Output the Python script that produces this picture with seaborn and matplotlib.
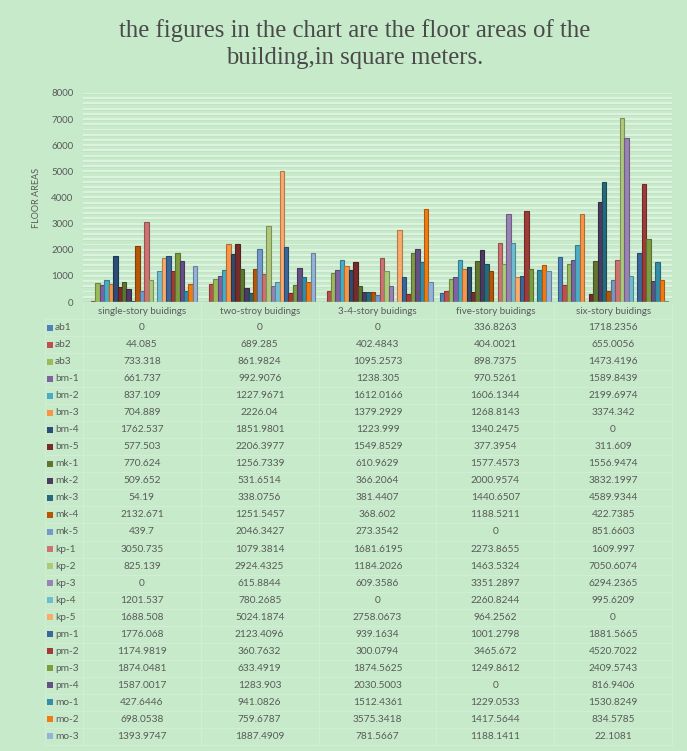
import matplotlib
matplotlib.use("Agg")
import matplotlib.pyplot as plt
import matplotlib.colors as mcolors
import seaborn as sns
import pandas as pd
import numpy as np

categories = ["single-story buidings", "two-stroy buidings", "3-4-story buidings",
              "five-story buidings", "six-story buidings"]

series = ["ab1", "ab2", "ab3", "bm-1", "bm-2", "bm-3", "bm-4", "bm-5",
          "mk-1", "mk-2", "mk-3", "mk-4", "mk-5",
          "kp-1", "kp-2", "kp-3", "kp-4", "kp-5",
          "pm-1", "pm-2", "pm-3", "pm-4", "mo-1", "mo-2", "mo-3"]

# one list per series, values in category order (text kept as shown in the table)
ab1 = ["0", "0", "0", "336.8263", "1718.2356"]
ab2 = ["44.085", "689.285", "402.4843", "404.0021", "655.0056"]
ab3 = ["733.318", "861.9824", "1095.2573", "898.7375", "1473.4196"]
bm_1 = ["661.737", "992.9076", "1238.305", "970.5261", "1589.8439"]
bm_2 = ["837.109", "1227.9671", "1612.0166", "1606.1344", "2199.6974"]
bm_3 = ["704.889", "2226.04", "1379.2929", "1268.8143", "3374.342"]
bm_4 = ["1762.537", "1851.9801", "1223.999", "1340.2475", "0"]
bm_5 = ["577.503", "2206.3977", "1549.8529", "377.3954", "311.609"]
mk_1 = ["770.624", "1256.7339", "610.9629", "1577.4573", "1556.9474"]
mk_2 = ["509.652", "531.6514", "366.2064", "2000.9574", "3832.1997"]
mk_3 = ["54.19", "338.0756", "381.4407", "1440.6507", "4589.9344"]
mk_4 = ["2132.671", "1251.5457", "368.602", "1188.5211", "422.7385"]
mk_5 = ["439.7", "2046.3427", "273.3542", "0", "851.6603"]
kp_1 = ["3050.735", "1079.3814", "1681.6195", "2273.8655", "1609.997"]
kp_2 = ["825.139", "2924.4325", "1184.2026", "1463.5324", "7050.6074"]
kp_3 = ["0", "615.8844", "609.3586", "3351.2897", "6294.2365"]
kp_4 = ["1201.537", "780.2685", "0", "2260.8244", "995.6209"]
kp_5 = ["1688.508", "5024.1874", "2758.0673", "964.2562", "0"]
pm_1 = ["1776.068", "2123.4096", "939.1634", "1001.2798", "1881.5665"]
pm_2 = ["1174.9819", "360.7632", "300.0794", "3465.672", "4520.7022"]
pm_3 = ["1874.0481", "633.4919", "1874.5625", "1249.8612", "2409.5743"]
pm_4 = ["1587.0017", "1283.903", "2030.5003", "0", "816.9406"]
mo_1 = ["427.6446", "941.0826", "1512.4361", "1229.0533", "1530.8249"]
mo_2 = ["698.0538", "759.6787", "3575.3418", "1417.5644", "834.5785"]
mo_3 = ["1393.9747", "1887.4909", "781.5667", "1188.1411", "22.1081"]

values = [ab1, ab2, ab3, bm_1, bm_2, bm_3, bm_4, bm_5, mk_1, mk_2, mk_3, mk_4, mk_5,
          kp_1, kp_2, kp_3, kp_4, kp_5, pm_1, pm_2, pm_3, pm_4, mo_1, mo_2, mo_3]

colors = ["#4F81BD", "#C0504D", "#9BBB59", "#8064A2", "#4BACC6", "#F79646",
          "#2C4D75", "#772C2A", "#5F7530", "#4D3B62", "#276A7C", "#B65708",
          "#729ACA", "#CD7371", "#AFC97A", "#9983B5", "#6FBDD1", "#F9AB6B",
          "#3A679C", "#9F3B38", "#7E9C40", "#664F83", "#358DA8", "#F07B12", "#95B3D7"]

rows = []
for name, vals in zip(series, values):
    for cat, v in zip(categories, vals):
        rows.append({"category": cat, "series": name, "area": float(v)})
df = pd.DataFrame(rows)

bg = "#C6EACA"
txt = "#5A5A5A"
W, H = 687, 751

sns.set_theme(style="white")
plt.rcParams["font.family"] = ["Lato", "DejaVu Sans"]

fig = plt.figure(figsize=(W / 100, H / 100), dpi=100, facecolor=bg)

# chart area
ax = fig.add_axes([83 / W, 1 - 302 / H, (672 - 83) / W, (302 - 93) / H])
ax.set_facecolor(bg)
for y in np.arange(200, 8001, 200):
    ax.axhline(y, color="#DDF3DF", lw=1.5, zorder=0)
    ax.axhline(y - 35, color="#BDE0C0", lw=0.5, zorder=0)

sns.barplot(data=df, x="category", y="area", hue="series", order=categories,
            hue_order=series, palette=colors, width=0.94, saturation=1,
            legend=False, ax=ax, zorder=2)

for cont, c in zip(ax.containers, colors):
    edge = tuple(np.array(mcolors.to_rgb(c)) * 0.72)
    for bar in cont:
        bar.set_edgecolor(edge)
        bar.set_linewidth(0.8)

ax.set_ylim(0, 8000)
ax.set_xlim(-0.5, len(categories) - 0.5)
ax.set_yticks(range(0, 8001, 1000))
ax.tick_params(axis="y", labelsize=7, labelcolor=txt, length=0, pad=7)
ax.set_xticks([])
ax.set_xlabel("")
ax.set_ylabel("FLOOR AREAS", fontsize=6.5, color=txt, labelpad=7)
for s in ax.spines.values():
    s.set_visible(False)
ax.axhline(0, color="#A8C8AC", lw=1.0, zorder=3)

fig.text(355 / W, 1 - 44 / H,
         "the figures in the chart are the floor areas of the\nbuilding,in square meters.",
         ha="center", va="center", fontsize=17.8, color="#4A4A4A",
         family=["Liberation Serif", "DejaVu Serif"], linespacing=1.3)

# data table drawn in pixel coordinates of the figure
tab = fig.add_axes([0, 0, 1, 1])
tab.set_xlim(0, W)
tab.set_ylim(H, 0)
tab.axis("off")
tab.patch.set_alpha(0)

col_edges = np.linspace(83, 672, len(categories) + 1)
col_mid = (col_edges[:-1] + col_edges[1:]) / 2
top, head_bot, bottom = 303, 319, 745
row_h = (bottom - head_bot) / len(series)
line_c = "#D2EFD5"

tab.plot([83, 672], [head_bot, head_bot], color=line_c, lw=0.7)
for x in col_edges:
    tab.plot([x, x], [top, bottom], color=line_c, lw=0.7)
tab.plot([45, 45], [head_bot, bottom], color=line_c, lw=0.7)
for i in range(len(series) + 1):
    y = head_bot + i * row_h
    tab.plot([45, 672], [y, y], color=line_c, lw=0.7)

for x, cat in zip(col_mid, categories):
    tab.text(x, (top + head_bot) / 2, cat, ha="center", va="center", fontsize=7, color=txt)

for i, (name, vals, c) in enumerate(zip(series, values, colors)):
    yc = head_bot + (i + 0.5) * row_h
    tab.scatter([49.5], [yc], marker="s", s=14, color=c, linewidths=0)
    tab.text(55, yc, name, ha="left", va="center", fontsize=7.3, color=txt)
    for x, v in zip(col_mid, vals):
        tab.text(x, yc, v, ha="center", va="center", fontsize=7.3, color=txt)

fig.savefig("out.png", dpi=100, facecolor=bg)
